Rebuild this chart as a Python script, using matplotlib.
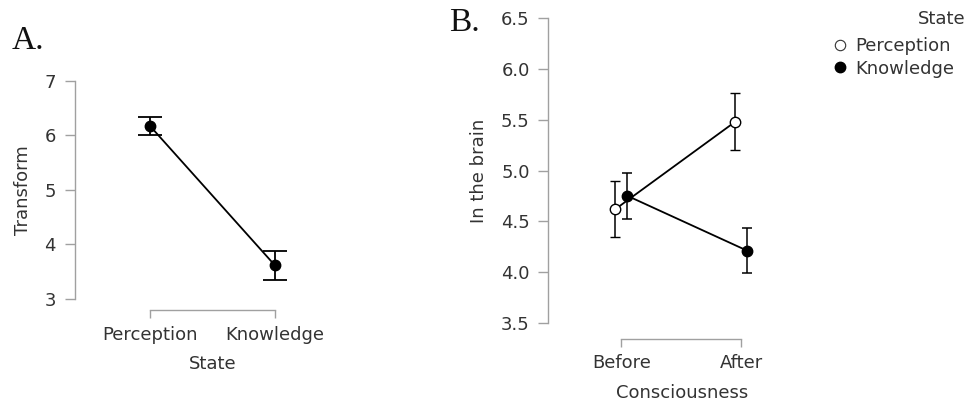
import matplotlib
matplotlib.use("Agg")
import matplotlib.pyplot as plt
from matplotlib.lines import Line2D
import numpy as np

# ---- data ----
states = ["Perception", "Knowledge"]
transform_mean = [6.17, 3.61]
transform_err = [0.17, 0.27]

phases = ["Before", "After"]
perception_mean = [4.62, 5.48]
perception_err = [0.28, 0.28]
knowledge_mean = [4.75, 4.21]
knowledge_err = [0.23, 0.225]

yticks_a = [3, 4, 5, 6, 7]
yticks_b = [3.5, 4.0, 4.5, 5.0, 5.5, 6.0, 6.5]

plt.rcParams["font.family"] = ["DejaVu Sans"]
TXT = "#333333"
AX = "#a0a0a0"
FS = 13

W, H = 979, 404
fig = plt.figure(figsize=(W / 100, H / 100), dpi=100)


def frac(left, top, right, bottom):
    return [left / W, 1 - bottom / H, (right - left) / W, (bottom - top) / H]


def style(ax, outward, xlen, ylen, xpad, ypad):
    for s in ("top", "right"):
        ax.spines[s].set_visible(False)
    ax.spines["left"].set_color(AX)
    ax.spines["bottom"].set_color(AX)
    ax.spines["left"].set_linewidth(1.0)
    ax.spines["bottom"].set_linewidth(1.0)
    ax.spines["bottom"].set_position(("outward", outward))
    ax.spines["bottom"].set_bounds(0, 1)
    ax.tick_params(axis="x", length=xlen, color=AX, labelcolor=TXT, labelsize=FS, pad=xpad, width=1.0)
    ax.tick_params(axis="y", length=ylen, color=AX, labelcolor=TXT, labelsize=FS, pad=ypad, width=1.0)
    ax.patch.set_alpha(0)


# ---- panel A ----
axA = fig.add_axes(frac(75, 80.7, 325, 298.7))
xa = np.arange(len(states))
axA.errorbar(xa, transform_mean, yerr=transform_err, color="black", lw=1.3,
             marker="o", ms=7.5, mfc="black", mec="black", capsize=8.5, capthick=1.3,
             elinewidth=1.3, zorder=3)
axA.set_xlim(-0.6, 1.4)
axA.set_ylim(3, 7)
axA.set_yticks(yticks_a)
axA.set_xticks(xa)
axA.set_xticklabels(states)
axA.spines["left"].set_bounds(3, 7)
style(axA, 8.1, 5.8, 7.2, 6, 6.5)
axA.set_xlabel("State", fontsize=FS, color=TXT)
axA.xaxis.label.set_va("center")
axA.xaxis.set_label_coords(0.55, -0.30)
axA.set_ylabel("Transform", fontsize=FS, color=TXT)
axA.yaxis.label.set_va("center")
axA.yaxis.set_label_coords(-0.208, 0.5)

# ---- panel B ----
axB = fig.add_axes(frac(548, 18.3, 789, 322.7))
xb = np.arange(len(phases))
dodge = 0.05
axB.errorbar(xb - dodge, perception_mean, yerr=perception_err, color="black", lw=1.3,
             marker="o", ms=7.5, mfc="white", mec="black", mew=1.0, capsize=3.5, capthick=1.1,
             elinewidth=1.1, zorder=3)
axB.errorbar(xb + dodge, knowledge_mean, yerr=knowledge_err, color="black", lw=1.3,
             marker="o", ms=7.5, mfc="black", mec="black", capsize=3.5, capthick=1.1,
             elinewidth=1.1, zorder=4)
axB.set_xlim(-0.614, 1.4)
axB.set_ylim(3.5, 6.5)
axB.set_yticks(yticks_b)
axB.set_yticklabels([f"{v:.1f}" for v in yticks_b])
axB.set_xticks(xb)
axB.set_xticklabels(phases)
axB.spines["left"].set_bounds(3.5, 6.5)
style(axB, 11.7, 5.8, 7.2, 5, 6)
axB.set_xlabel("Consciousness", fontsize=FS, color=TXT)
axB.xaxis.label.set_va("center")
axB.xaxis.set_label_coords(0.555, -0.231)
axB.set_ylabel("In the brain", fontsize=FS, color=TXT)
axB.yaxis.label.set_va("center")
axB.yaxis.set_label_coords(-0.286, 0.5)

# ---- legend ----
handles = [
    Line2D([], [], ls="none", marker="o", ms=7.5, mfc="white", mec="#333333", mew=0.8),
    Line2D([], [], ls="none", marker="o", ms=7.5, mfc="black", mec="black"),
]
leg = fig.legend(handles, states, loc="upper left",
                 bbox_to_anchor=(833 / W, 1 - 37 / H), frameon=False, fontsize=FS,
                 handlelength=0.8, handletextpad=0.45, labelspacing=0.25, borderaxespad=0,
                 borderpad=0)
for t in leg.get_texts():
    t.set_color(TXT)
fig.text(966 / W, 1 - 19 / H, "State", fontsize=FS, color=TXT, ha="right", va="center")

# ---- panel letters ----
fig.text(12 / W, 1 - 41 / H, "A.", family="Liberation Serif", fontsize=24, va="center", ha="left", color="#111111")
fig.text(449 / W, 1 - 23 / H, "B.", family="Liberation Serif", fontsize=24, va="center", ha="left", color="#111111")

fig.savefig("out.png", dpi=100)
